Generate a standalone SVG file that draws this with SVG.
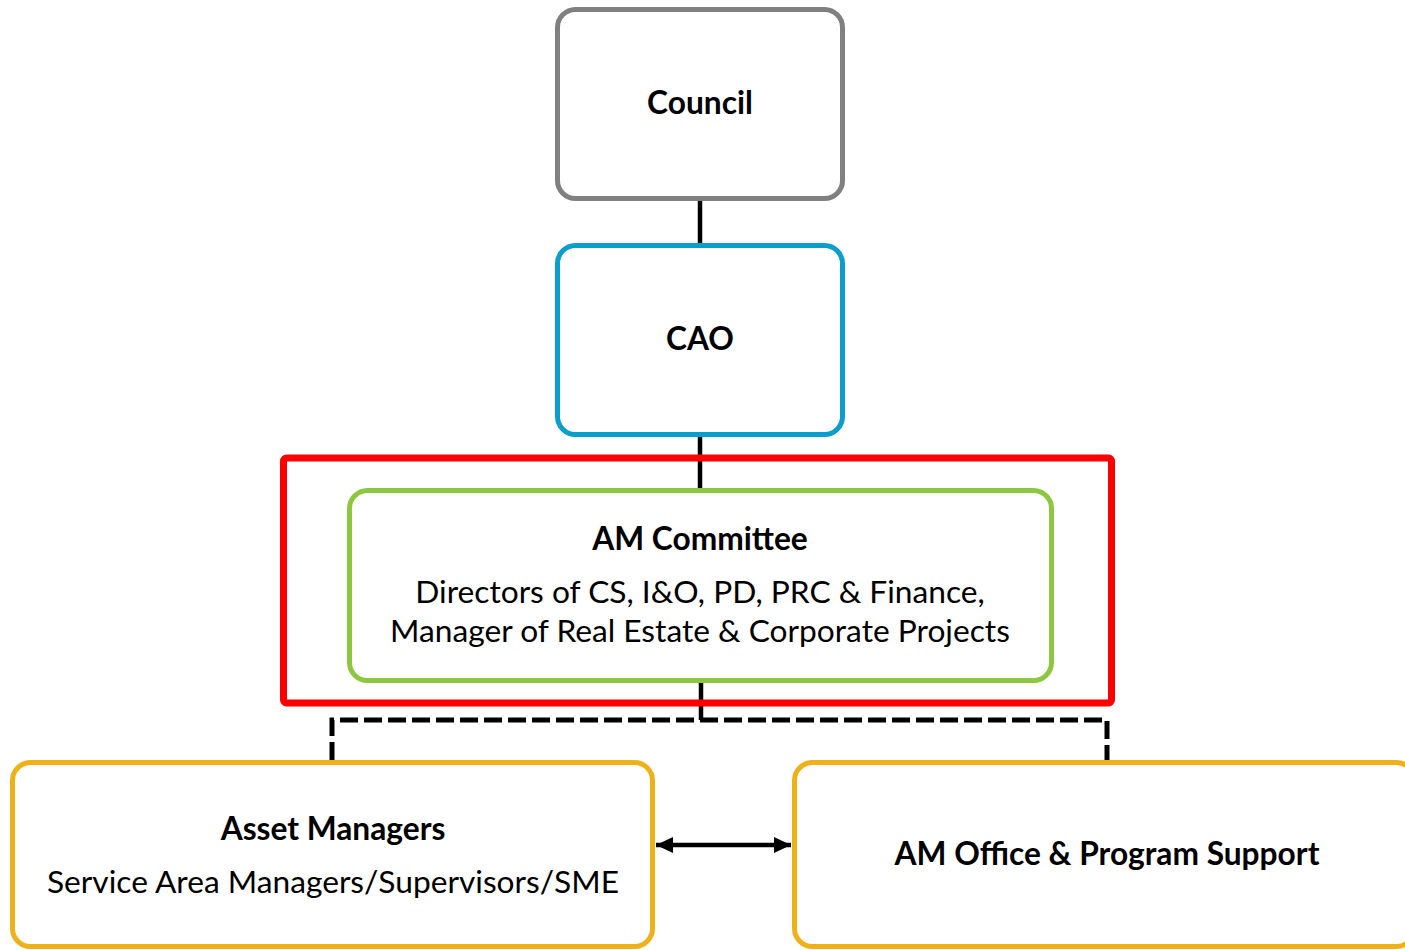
<svg xmlns="http://www.w3.org/2000/svg" width="1405" height="950" viewBox="0 0 1405 950">
<style>
.box{fill:#fff;stroke-width:5}
.t{font-family:Lato,"Open Sans",sans-serif;font-size:31.7px;fill:#000;text-anchor:middle}
.b{font-weight:bold}
.ln{stroke:#000;stroke-width:4.5;fill:none}
.dash{stroke:#000;stroke-width:5;fill:none;stroke-dasharray:18 6}
</style>
<defs>
<marker id="ah" viewBox="0 0 17 16" refX="17" refY="8" markerWidth="17" markerHeight="16" orient="auto-start-reverse" markerUnits="userSpaceOnUse">
<path d="M0,0 L17,8 L0,16 z" fill="#000"/>
</marker>
</defs>
<rect width="1405" height="950" fill="#fff"/>
<g id="connectors">
<line class="ln" x1="700" y1="199" x2="700" y2="245"/>
<line class="ln" x1="700" y1="435" x2="700" y2="490"/>
<line class="ln" x1="701" y1="681" x2="701" y2="720"/>
<path class="dash" d="M332,760 L332,720 L1107,720 L1107,760"/>
<line class="ln" x1="656" y1="845" x2="791" y2="845" marker-start="url(#ah)" marker-end="url(#ah)"/>
</g>
<g id="council">
<rect class="box" x="557.5" y="9.5" width="285" height="189" rx="18" stroke="#808080"/>
<text class="t b" x="700" y="114">Council</text>
</g>
<g id="cao">
<rect class="box" x="557.5" y="245.5" width="285" height="189" rx="18" stroke="#0A9FCB"/>
<text class="t b" x="700" y="350">CAO</text>
</g>
<g id="am-group">
<rect x="283.5" y="458" width="828" height="245" rx="3" fill="none" stroke="#FF0000" stroke-width="7"/>
</g>
<g id="am-committee">
<rect class="box" x="349.5" y="490.5" width="702" height="190" rx="18" stroke="#8DC63F"/>
<text class="t b" x="700" y="550">AM Committee</text>
<text class="t" x="700" y="603">Directors of CS, I&amp;O, PD, PRC &amp; Finance,</text>
<text class="t" x="700" y="642">Manager of Real Estate &amp; Corporate Projects</text>
</g>
<g id="asset-managers">
<rect class="box" x="12.5" y="762.5" width="640" height="184" rx="18" stroke="#EFB118"/>
<text class="t b" x="333" y="840">Asset Managers</text>
<text class="t" x="333" y="893">Service Area Managers/Supervisors/SME</text>
</g>
<g id="am-office">
<rect class="box" x="794.5" y="762.5" width="620" height="184" rx="18" stroke="#EFB118"/>
<text class="t b" x="1107" y="865">AM Office &amp; Program Support</text>
</g>
</svg>
